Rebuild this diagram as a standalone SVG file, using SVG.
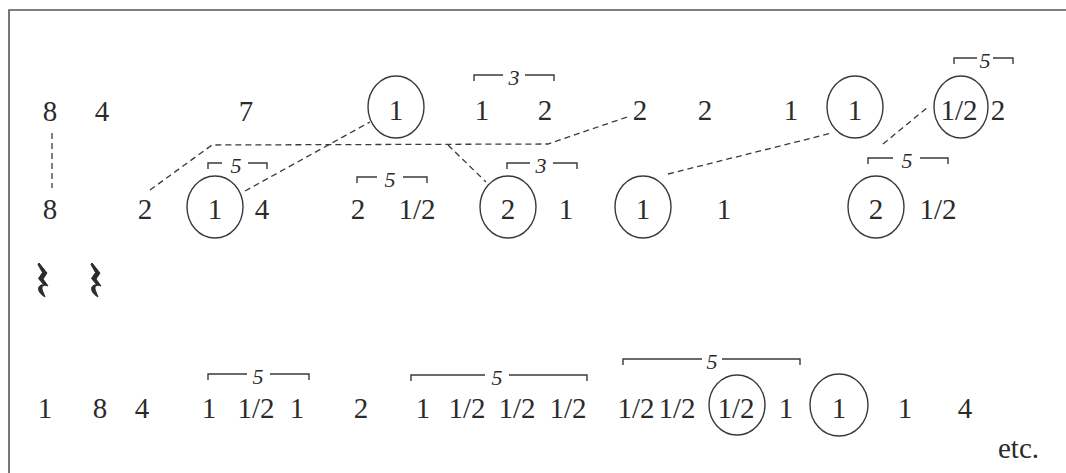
<svg xmlns="http://www.w3.org/2000/svg" width="1066" height="473" viewBox="0 0 1066 473">
<defs>
<style>
.t{font-family:"Liberation Serif","Times New Roman",serif;font-size:29px;fill:#2b2b2b;text-anchor:middle}
.n{font-family:"Liberation Serif","Times New Roman",serif;font-size:22px;font-style:italic;fill:#2b2b2b;text-anchor:middle}
.c{fill:none;stroke:#3a3a3a;stroke-width:1.4}
.b{fill:none;stroke:#3a3a3a;stroke-width:1.4}
.d{fill:none;stroke:#3a3a3a;stroke-width:1.3;stroke-dasharray:6 4}
.f{fill:none;stroke:#555;stroke-width:1.6}
.r{fill:#2b2b2b;stroke:#2b2b2b;stroke-width:1;stroke-linejoin:round}
</style>
<path id="rest" d="M2 0 L10 10 L6 16 L11 23 C6 21 3.5 24 6 29 L8 34 C3 31 0.5 27 2 24 C3 22 5 21.5 7 22 L1.5 15.5 L5.5 9.5 L1 1.5 Z"/>
</defs>
<rect width="1066" height="473" fill="#fff"/>
<path class="f" d="M9 473 V10 H1066"/>

<g id="connectors">
<path class="d" d="M150 190 L212 145 L548 144 L630 116"/>
<path class="d" d="M448 145 L486 182"/>
<path class="d" d="M245 191 L370 122"/>
<path class="d" d="M668 174 L832 133"/>
<path class="d" d="M883 144 L928 107"/>
<path class="d" d="M52 133 L52 188"/>
</g>

<g id="row1">
<g id="r1-8"><text class="t" x="50" y="121">8</text></g>
<g id="r1-4"><text class="t" x="102" y="121">4</text></g>
<g id="r1-7"><text class="t" x="246" y="121">7</text></g>
<g id="r1-c1"><ellipse class="c" cx="396" cy="107" rx="28" ry="31"/><text class="t" x="396" y="120">1</text></g>
<g id="r1-br3"><path class="b" d="M474 81 V75 H503 M525 75 H554 V81"/><text class="n" x="514" y="85">3</text></g>
<g id="r1-1"><text class="t" x="482" y="120">1</text></g>
<g id="r1-2a"><text class="t" x="545" y="120">2</text></g>
<g id="r1-2b"><text class="t" x="640" y="120">2</text></g>
<g id="r1-2c"><text class="t" x="705" y="120">2</text></g>
<g id="r1-1b"><text class="t" x="791" y="120">1</text></g>
<g id="r1-c1b"><ellipse class="c" cx="855" cy="107" rx="28" ry="31"/><text class="t" x="855" y="120">1</text></g>
<g id="r1-br5"><path class="b" d="M954 64 V58 H977 M993 58 H1013 V64"/><text class="n" x="985" y="68">5</text></g>
<g id="r1-c12"><ellipse class="c" cx="961" cy="107" rx="27" ry="31"/><text class="t" x="959" y="120">1/2</text></g>
<g id="r1-2d"><text class="t" x="998" y="120">2</text></g>
</g>

<g id="row2">
<g id="r2-8"><text class="t" x="50" y="219">8</text></g>
<g id="r2-2"><text class="t" x="145" y="219">2</text></g>
<g id="r2-br5a"><path class="b" d="M208 169 V163 H222 M248 163 H267 V169"/><text class="n" x="236" y="173">5</text></g>
<g id="r2-c1"><ellipse class="c" cx="215" cy="207" rx="28" ry="31"/><text class="t" x="215" y="219">1</text></g>
<g id="r2-4"><text class="t" x="262" y="219">4</text></g>
<g id="r2-br5b"><path class="b" d="M357 183 V177 H377 M403 177 H427 V183"/><text class="n" x="390" y="187">5</text></g>
<g id="r2-2b"><text class="t" x="358" y="219">2</text></g>
<g id="r2-12"><text class="t" x="417" y="219">1/2</text></g>
<g id="r2-br3"><path class="b" d="M507 169 V163 H530 M553 163 H577 V169"/><text class="n" x="541" y="173">3</text></g>
<g id="r2-c2"><ellipse class="c" cx="508" cy="207" rx="28" ry="31"/><text class="t" x="508" y="219">2</text></g>
<g id="r2-1"><text class="t" x="566" y="219">1</text></g>
<g id="r2-c1b"><ellipse class="c" cx="643" cy="207" rx="28" ry="31"/><text class="t" x="643" y="219">1</text></g>
<g id="r2-1b"><text class="t" x="724" y="219">1</text></g>
<g id="r2-br5c"><path class="b" d="M868 164 V158 H893 M920 158 H948 V164"/><text class="n" x="907" y="168">5</text></g>
<g id="r2-c2b"><ellipse class="c" cx="876" cy="207" rx="28" ry="31"/><text class="t" x="876" y="219">2</text></g>
<g id="r2-12b"><text class="t" x="938" y="219">1/2</text></g>
</g>

<g id="rests">
<g id="rest1"><use href="#rest" class="r" x="37" y="263"/></g>
<g id="rest2"><use href="#rest" class="r" x="90" y="263"/></g>
</g>

<g id="row4">
<g id="r4-1"><text class="t" x="45" y="418">1</text></g>
<g id="r4-8"><text class="t" x="100" y="418">8</text></g>
<g id="r4-4"><text class="t" x="142" y="418">4</text></g>
<g id="r4-brA"><path class="b" d="M208 380 V374 H247 M270 374 H309 V380"/><text class="n" x="258" y="384">5</text></g>
<g id="r4-1a"><text class="t" x="209" y="418">1</text></g>
<g id="r4-12a"><text class="t" x="256" y="418">1/2</text></g>
<g id="r4-1b"><text class="t" x="297" y="418">1</text></g>
<g id="r4-2"><text class="t" x="361" y="418">2</text></g>
<g id="r4-brB"><path class="b" d="M411 381 V375 H485 M509 375 H587 V381"/><text class="n" x="497" y="385">5</text></g>
<g id="r4-1c"><text class="t" x="423" y="418">1</text></g>
<g id="r4-12b"><text class="t" x="467" y="418">1/2</text></g>
<g id="r4-12c"><text class="t" x="517" y="418">1/2</text></g>
<g id="r4-12d"><text class="t" x="568" y="418">1/2</text></g>
<g id="r4-brC"><path class="b" d="M623 365 V359 H702 M722 359 H800 V365"/><text class="n" x="712" y="369">5</text></g>
<g id="r4-12e"><text class="t" x="636" y="418">1/2</text></g>
<g id="r4-12f"><text class="t" x="677" y="418">1/2</text></g>
<g id="r4-c12"><ellipse class="c" cx="737" cy="405" rx="28" ry="30"/><text class="t" x="736" y="418">1/2</text></g>
<g id="r4-1d"><text class="t" x="786" y="418">1</text></g>
<g id="r4-c1"><ellipse class="c" cx="839" cy="405" rx="29" ry="31"/><text class="t" x="839" y="418">1</text></g>
<g id="r4-1e"><text class="t" x="905" y="418">1</text></g>
<g id="r4-4b"><text class="t" x="965" y="418">4</text></g>
<g id="etc"><text class="t" x="998" y="458" style="text-anchor:start">etc.</text></g>
</g>
</svg>
